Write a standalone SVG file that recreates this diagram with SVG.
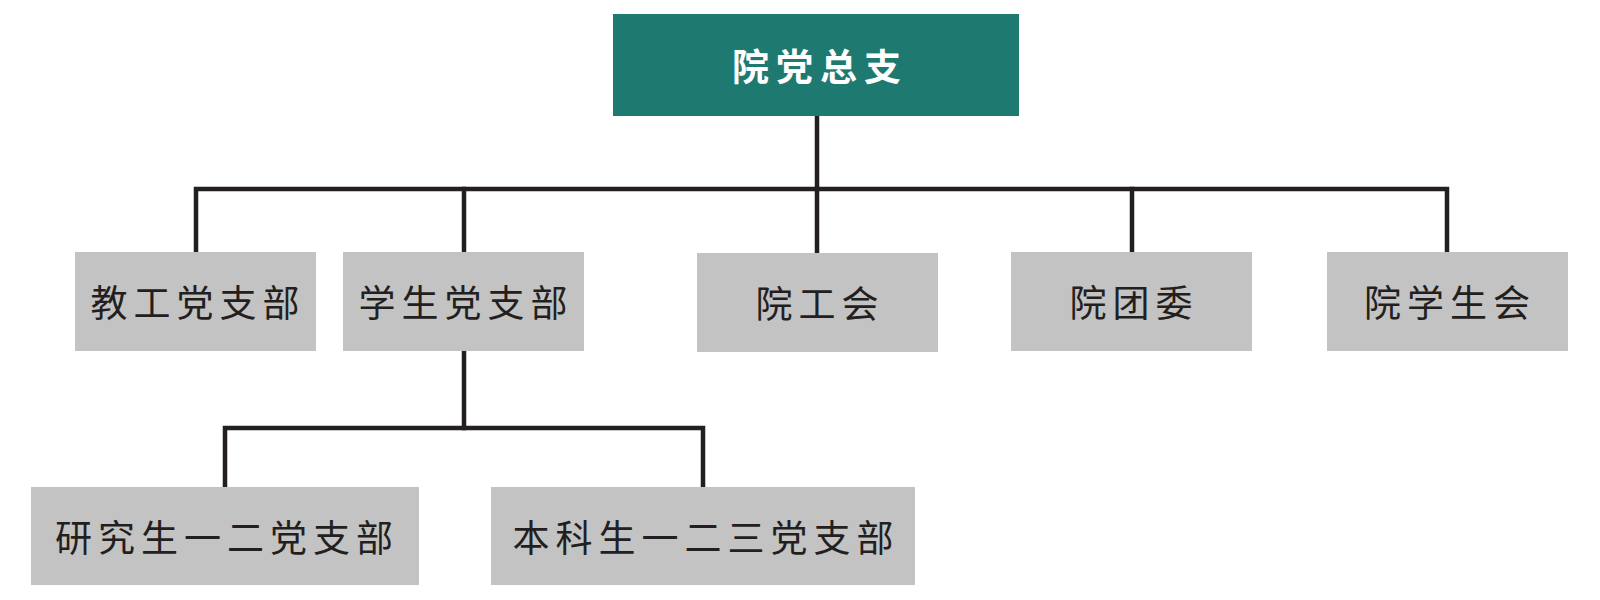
<svg xmlns="http://www.w3.org/2000/svg" width="1600" height="600" viewBox="0 0 1600 600">
<style>
.bg{fill:#ffffff}
.top rect{fill:#1e7971}
.node rect{fill:#c3c3c3}
.top text{font-family:"Noto Sans CJK SC","Noto Sans CJK TC",sans-serif;font-size:37px;font-weight:700;fill:#ffffff;letter-spacing:7px;text-anchor:middle;dominant-baseline:central}
.node text{font-family:"Noto Sans CJK SC","Noto Sans CJK TC",sans-serif;font-size:37px;font-weight:400;fill:#231f20;letter-spacing:6px;text-anchor:middle;dominant-baseline:central}
#connectors path{fill:none;stroke:#231f20;stroke-width:4.5;stroke-linecap:square;stroke-linejoin:miter}
</style>
<rect class="bg" x="0" y="0" width="1600" height="600"/>
<g id="connectors">
<path d="M817 116 V189"/>
<path d="M196 252 V189 H1447 V252"/>
<path d="M464 189 V252"/>
<path d="M817 189 V252"/>
<path d="M1132 189 V252"/>
<path d="M464 351 V428"/>
<path d="M225 487 V428 H703 V487"/>
</g>
<g id="n-yuandangzongzhi" class="top">
<rect x="613" y="14" width="406" height="102"/>
<text x="820" y="65">院党总支</text>
</g>
<g id="n-jiaogong" class="node">
<rect x="75" y="252" width="241" height="99"/>
<text x="198" y="301">教工党支部</text>
</g>
<g id="n-xuesheng" class="node">
<rect x="343" y="252" width="241" height="99"/>
<text x="466" y="301">学生党支部</text>
</g>
<g id="n-yuangonghui" class="node">
<rect x="697" y="253" width="241" height="99"/>
<text x="820" y="302">院工会</text>
</g>
<g id="n-yuantuanwei" class="node">
<rect x="1011" y="252" width="241" height="99"/>
<text x="1134" y="301">院团委</text>
</g>
<g id="n-yuanxueshenghui" class="node">
<rect x="1327" y="252" width="241" height="99"/>
<text x="1450" y="301">院学生会</text>
</g>
<g id="n-yanjiusheng" class="node">
<rect x="31" y="487" width="388" height="98"/>
<text x="227" y="536">研究生一二党支部</text>
</g>
<g id="n-benkesheng" class="node">
<rect x="491" y="487" width="424" height="98"/>
<text x="706" y="536">本科生一二三党支部</text>
</g>
</svg>
